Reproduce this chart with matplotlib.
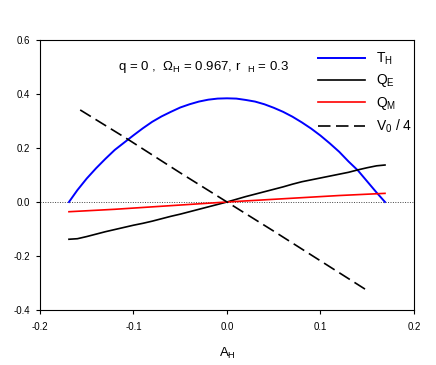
import matplotlib
matplotlib.use("Agg")
import matplotlib.pyplot as plt

plt.rcParams['font.family'] = ['Liberation Sans', 'DejaVu Sans']
plt.rcParams['mathtext.fontset'] = 'custom'
plt.rcParams['mathtext.rm'] = 'Liberation Sans'
plt.rcParams['mathtext.it'] = 'Liberation Sans'

# T_H
a_t = [-0.169, -0.160, -0.150, -0.140, -0.130, -0.120, -0.110, -0.100, -0.090, -0.080,
       -0.070, -0.060, -0.050, -0.040, -0.030, -0.020, -0.010, 0.000, 0.010, 0.020,
       0.030, 0.040, 0.050, 0.060, 0.070, 0.080, 0.090, 0.100, 0.110, 0.120,
       0.130, 0.140, 0.150, 0.160, 0.169]
t_h = [0.000, 0.044, 0.087, 0.125, 0.160, 0.193, 0.220, 0.247, 0.273, 0.297,
       0.317, 0.334, 0.350, 0.362, 0.372, 0.379, 0.383, 0.384, 0.383, 0.378,
       0.372, 0.362, 0.349, 0.334, 0.316, 0.295, 0.272, 0.246, 0.217, 0.186,
       0.150, 0.117, 0.076, 0.035, 0.000]

# Q_E
a_qe = [-0.169, -0.160, -0.150, -0.140, -0.130, -0.120, -0.110, -0.100, -0.090, -0.080,
        -0.070, -0.060, -0.050, -0.040, -0.030, -0.020, -0.010, 0.000, 0.010, 0.020,
        0.030, 0.040, 0.050, 0.060, 0.070, 0.080, 0.090, 0.100, 0.110, 0.120,
        0.130, 0.140, 0.150, 0.160, 0.169]
q_e = [-0.138, -0.136, -0.128, -0.119, -0.110, -0.102, -0.094, -0.086, -0.079, -0.071,
       -0.062, -0.053, -0.045, -0.036, -0.027, -0.018, -0.009, 0.000, 0.010, 0.020,
       0.029, 0.038, 0.047, 0.056, 0.066, 0.075, 0.082, 0.089, 0.096, 0.103,
       0.110, 0.119, 0.127, 0.134, 0.137]

# Q_M
a_qm = [-0.169, -0.120, -0.080, -0.040, 0.000, 0.040, 0.080, 0.120, 0.169]
q_m = [-0.036, -0.027, -0.018, -0.009, 0.000, 0.008, 0.016, 0.024, 0.032]

# V_0 / 4
a_v = [-0.157, -0.105, -0.050, 0.000, 0.050, 0.100, 0.151]
v_0 = [0.341, 0.230, 0.108, 0.000, -0.108, -0.218, -0.330]

fig = plt.figure(figsize=(4.36, 3.65), dpi=100)
ax = fig.add_axes([0.0917, 0.1507, 0.8578, 0.7397])

ax.axhline(0, color='#444444', lw=0.7, ls=(0, (1, 1.5)), zorder=1)
ax.plot(a_t, t_h, color='#0000ff', lw=1.4, label=r'T$_\mathregular{H}$')
ax.plot(a_qe, q_e, color='black', lw=1.2, label=r'Q$_\mathregular{E}$')
ax.plot(a_qm, q_m, color='#ff0000', lw=1.2, label=r'Q$_\mathregular{M}$')
ax.plot(a_v, v_0, color='black', lw=1.2, dashes=(7.5, 3.3), label=r'V$_\mathregular{0}$ / 4')

ax.set_xlim(-0.2, 0.2)
ax.set_ylim(-0.4, 0.6)
ax.set_xticks([-0.2, -0.1, 0.0, 0.1, 0.2])
ax.set_yticks([-0.4, -0.2, 0.0, 0.2, 0.4, 0.6])
ax.set_xticklabels(['-0.2', '-0.1', '0.0', '0.1', '0.2'])
ax.set_yticklabels(['-0.4', '-0.2', '0.0', '0.2', '0.4', '0.6'])
ax.tick_params(direction='out', length=3, width=0.8, labelsize=7, pad=4)
ax.tick_params(axis='x', pad=6)
for s in ax.spines.values():
    s.set_linewidth(0.8)

ax.set_xlabel(r'A$_\mathregular{H}$', fontsize=9.5, labelpad=10)

ax.text(-0.117, 0.5, r'q = 0 ,  $\mathregular{\Omega_H}$ = 0.967, r  $\mathregular{_H}$ = 0.3',
        fontsize=9.5, va='center', ha='left')

ax.legend(loc='upper left', bbox_to_anchor=(0.729, 0.862), bbox_transform=fig.transFigure,
          frameon=False, fontsize=10, handlelength=3.4, handletextpad=0.8,
          labelspacing=0.41, borderpad=0, borderaxespad=0)

fig.savefig('out.png', dpi=100)
